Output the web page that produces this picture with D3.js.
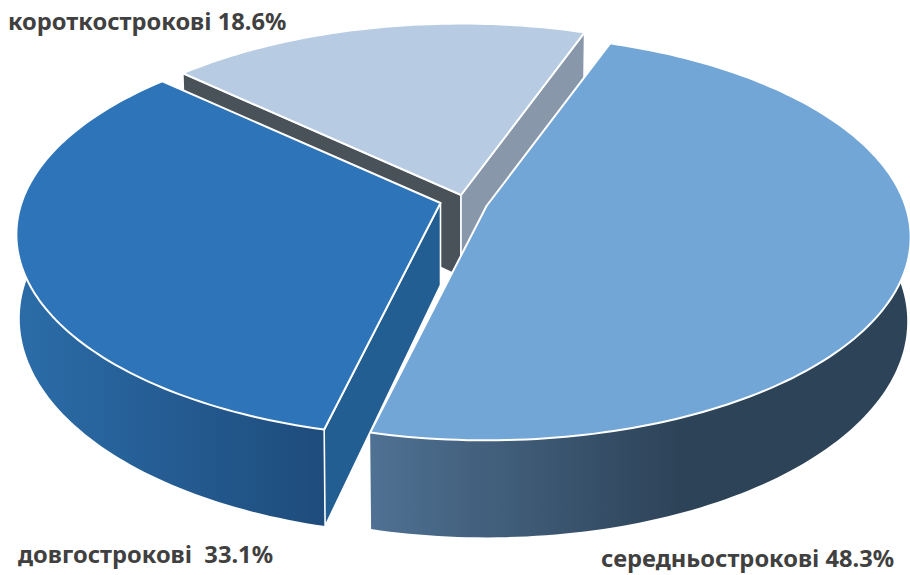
<!DOCTYPE html>
<html>
<head>
<meta charset="utf-8">
<script src="https://d3js.org/d3.v7.min.js"></script>
<style>
  html, body { margin: 0; background: #fff; }
  text { font-family: "Noto Sans", sans-serif; font-weight: 700; fill: #404040; font-size: 23.7px; }
</style>
</head>
<body>
<div id="chart"></div>
<script>
var categories = ["короткострокові", "середньострокові", "довгострокові"];
var values = [18.6, 48.3, 33.1];
var labels = ["короткострокові 18.6%", "середньострокові 48.3%", "довгострокові  33.1%"];

var width = 910, height = 575;

// projection of the disc: tilt, perspective strength and pie thickness
var R = 419, tilt = 0.4726, persp = 0.155, depth = 82;

// per slice placement, same order as categories
var apex = [[461, 195], [486.5, 206], [440.5, 203]];
var topFill = ["#b7cce2", "#71a6d7", "#2e74b9"];
var startWall = ["#4a5259", null, "#235e92"];
var endWall = ["#8898aa", null, null];
var labelPos = [[8, 30], [601, 567], [18, 563]];

var pie = d3.pie().sort(null).value(function(d) { return d; })
    .startAngle(-47.2 * Math.PI / 180)
    .endAngle(312.8 * Math.PI / 180);
var arcs = pie(values);

var svg = d3.select("#chart").append("svg")
    .attr("width", width)
    .attr("height", height);

var defs = svg.append("defs");
function gradient(id, x1, x2, c1, c2) {
  var g = defs.append("linearGradient").attr("id", id)
      .attr("gradientUnits", "userSpaceOnUse")
      .attr("x1", x1).attr("x2", x2).attr("y1", 0).attr("y2", 0);
  g.append("stop").attr("offset", 0).attr("stop-color", c1);
  g.append("stop").attr("offset", 1).attr("stop-color", c2);
}
gradient("side0", 0, 1, "#8898aa", "#8898aa");
gradient("side1", 370, 680, "#4f7193", "#2d4358");
gradient("side2", 20, 322, "#2b6ca8", "#1e4c7c");

// h = 0 on the top face, h = 1 on the bottom face
function project(c, a, r, h) {
  var u = r * Math.sin(a), v = -r * Math.cos(a);
  var k = 1 / (1 - persp * v);
  return [
    c[0] + u * R * k * (1 - 0.008 * h),
    c[1] + v * R * tilt * k + h * depth * k
  ];
}

function rim(c, a0, a1, h) {
  var n = Math.ceil(Math.abs(a1 - a0) / 0.02);
  return d3.range(n + 1).map(function(i) {
    return project(c, a0 + (a1 - a0) * i / n, 1, h);
  });
}

var line = d3.line();

arcs.forEach(function(d, i) {
  var c = apex[i];
  var g = svg.append("g").attr("class", "slice");
  var a0 = d.startAngle, a1 = d.endAngle;

  // outer wall
  g.append("path")
      .attr("d", line(rim(c, a0, a1, 0).concat(rim(c, a1, a0, 1))) + "Z")
      .attr("fill", "url(#side" + i + ")");

  // cut walls
  [[a0, startWall[i]], [a1, endWall[i]]].forEach(function(w) {
    if (!w[1]) return;
    var p = project(c, w[0], 1, 0), q = project(c, w[0], 1, 1);
    var low = [c[0], c[1] + depth];
    g.append("path")
        .attr("d", line([c, p, q, low]) + "Z")
        .attr("fill", w[1])
        .attr("stroke", "#fff")
        .attr("stroke-width", 1.6)
        .attr("stroke-linejoin", "round");
  });

  // top face
  g.append("path")
      .attr("d", line([c].concat(rim(c, a0, a1, 0))) + "Z")
      .attr("fill", topFill[i])
      .attr("stroke", "#fff")
      .attr("stroke-width", 2)
      .attr("stroke-linejoin", "round");
});

svg.selectAll("text.label")
    .data(labels)
    .enter().append("text")
    .attr("class", "label")
    .style("white-space", "pre")
    .attr("x", function(d, i) { return labelPos[i][0]; })
    .attr("y", function(d, i) { return labelPos[i][1]; })
    .text(function(d) { return d; });
</script>
</body>
</html>
